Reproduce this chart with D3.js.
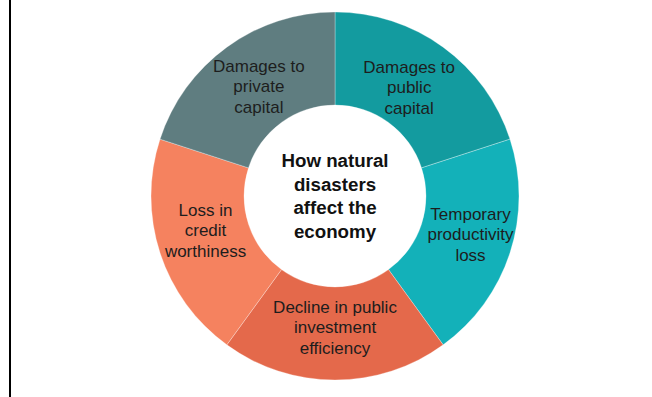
<!DOCTYPE html>
<html>
<head>
<meta charset="utf-8">
<script src="https://cdn.jsdelivr.net/npm/d3@7"></script>
<style>
  html, body { margin: 0; padding: 0; background: #ffffff; }
  svg { display: block; }
</style>
</head>
<body>
<svg id="chart" width="652" height="397"></svg>
<script>
// ---- data ----
const categories = [
  "Damages to public capital",
  "Temporary productivity loss",
  "Decline in public investment efficiency",
  "Loss in credit worthiness",
  "Damages to private capital"
];
const labelLines = [
  ["Damages to", "public", "capital"],
  ["Temporary", "productivity", "loss"],
  ["Decline in public", "investment", "efficiency"],
  ["Loss in", "credit", "worthiness"],
  ["Damages to", "private", "capital"]
];
const values = [1, 1, 1, 1, 1];
const colors = ["#139b9f", "#13b1b9", "#e4694b", "#f5825f", "#5f7d80"];
const centerTitle = ["How natural", "disasters", "affect the", "economy"];

// ---- layout ----
const W = 652, H = 397;
const cx = 335, cy = 196;
const outerR = 184, innerR = 91, labelR = 133;
// small label nudges (layout only)
const labelNudge = [[-4, -1], [9, -3], [0, -2], [-3, -7], [2, -2]];

const svg = d3.select("#chart");

// left frame line
svg.append("line")
  .attr("x1", 10).attr("x2", 10)
  .attr("y1", 0).attr("y2", H)
  .attr("stroke", "#000").attr("stroke-width", 2);

const g = svg.append("g").attr("transform", `translate(${cx},${cy})`);

const pie = d3.pie().sort(null).value(d => d)(values);
const arc = d3.arc().innerRadius(innerR).outerRadius(outerR);
const labelArc = d3.arc().innerRadius(labelR).outerRadius(labelR);

g.selectAll("path.slice")
  .data(pie)
  .join("path")
  .attr("class", "slice")
  .attr("d", arc)
  .attr("fill", (d, i) => colors[i])
  .attr("stroke", "rgba(255,255,255,0.5)")
  .attr("stroke-width", 0.6);

// slice labels
const lineH = 20.5;
g.selectAll("text.lbl")
  .data(pie)
  .join("text")
  .attr("class", "lbl")
  .attr("transform", (d, i) => {
    const [x, y] = labelArc.centroid(d);
    return `translate(${x + labelNudge[i][0]},${y + labelNudge[i][1]})`;
  })
  .attr("text-anchor", "middle")
  .attr("font-family", "Liberation Sans, Arial, sans-serif")
  .attr("font-size", 17)
  .attr("fill", "#1d1d1d")
  .each(function(d, i) {
    const lines = labelLines[i];
    const n = lines.length;
    d3.select(this).selectAll("tspan")
      .data(lines)
      .join("tspan")
      .attr("x", 0)
      .attr("y", (t, k) => (k - (n - 1) / 2) * lineH + 6)
      .text(t => t);
  });

// center title
const cLineH = 23.5;
const ct = g.append("text")
  .attr("text-anchor", "middle")
  .attr("font-family", "Liberation Sans, Arial, sans-serif")
  .attr("font-weight", "bold")
  .attr("font-size", 17.5)
  .attr("fill", "#111")
  .attr("transform", "scale(1.07,1)");
ct.selectAll("tspan")
  .data(centerTitle)
  .join("tspan")
  .attr("x", 0)
  .attr("y", (t, k) => (k - (centerTitle.length - 1) / 2) * cLineH + 6.5)
  .text(t => t);
</script>
</body>
</html>
